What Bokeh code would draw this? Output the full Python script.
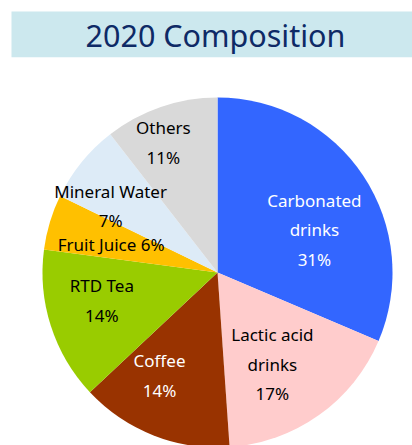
import math
from bokeh.plotting import figure
from bokeh.models import Range1d, ColumnDataSource
from bokeh.core.properties import value
from bokeh.embed import file_html
from bokeh.resources import INLINE

# ---- data ----
categories = ["Carbonated drinks", "Lactic acid drinks", "Coffee", "RTD Tea",
              "Fruit Juice", "Mineral Water", "Others"]
shares = [31.4, 17.5, 14.1, 14.1, 5.1, 7.3, 10.5]
pct_labels = ["31%", "17%", "14%", "14%", "6%", "7%", "11%"]
title_text = "2020 Composition"

# ---- styles / layout ----
colors = ["#3366FF", "#FFCCCC", "#993300", "#99CC00", "#FFC000", "#DDEBF7", "#D9D9D9"]
label_colors = ["white", "black", "white", "black", "black", "black", "black"]
label_lines = [["Carbonated", "drinks"], ["Lactic acid", "drinks"], ["Coffee"],
               ["RTD Tea"], None, ["Mineral Water"], ["Others"]]
angle_nudge = [9.6, 4.6, 8.0, 4.2, -1.9, -7.1, -3.7]   # degrees, clockwise
label_radius = [106, 107, 118, 119, 110, 126, 141]
line_gap = 29.5
R = 175
FONT = "Noto Sans"

W, H = 412, 445
p = figure(width=W, height=H, output_backend="svg", toolbar_location=None,
           x_range=Range1d(-217, 195), y_range=Range1d(-173, 272),
           min_border=0, outline_line_color=None)
p.axis.visible = False
p.grid.visible = False
p.background_fill_color = "white"
p.border_fill_color = "white"

# pie wedges, clockwise from 12 o'clock
total = sum(shares)
cum = [0.0]
for s in shares:
    cum.append(cum[-1] + s)
deg = [c / total * 360.0 for c in cum]
starts = [math.radians(90 - deg[i + 1]) for i in range(len(shares))]
ends = [math.radians(90 - deg[i]) for i in range(len(shares))]
src = ColumnDataSource(dict(start=starts, end=ends, color=colors, cat=categories))
p.wedge(x=0, y=0, radius=R, start_angle="start", end_angle="end",
        fill_color="color", line_color=None, source=src)

# labels
tx, ty, tt, tc = [], [], [], []
for i in range(len(shares)):
    mid = (deg[i] + deg[i + 1]) / 2 + angle_nudge[i]
    cx = label_radius[i] * math.sin(math.radians(mid))
    cy = label_radius[i] * math.cos(math.radians(mid))
    if label_lines[i] is None:
        lines = [categories[i] + " " + pct_labels[i]]
    else:
        lines = label_lines[i] + [pct_labels[i]]
    n = len(lines)
    for j, t in enumerate(lines):
        tx.append(cx)
        ty.append(cy + ((n - 1) / 2 - j) * line_gap)
        tt.append(t)
        tc.append(label_colors[i])
p.text(x=tx, y=ty, text=tt, text_color=tc, text_align="center",
       text_baseline="middle", text_font=value(FONT), text_font_size="17px")

# title box
p.quad(left=[-206], right=[200], bottom=[215.3], top=[261],
       fill_color="#CCE8EE", line_color=None)
p.text(x=[-2], y=[238], text=[title_text], text_color="#0E2A66",
       text_align="center", text_baseline="middle",
       text_font=value(FONT), text_font_size="30.5px")

open("out.html", "w").write(file_html(p, INLINE))
